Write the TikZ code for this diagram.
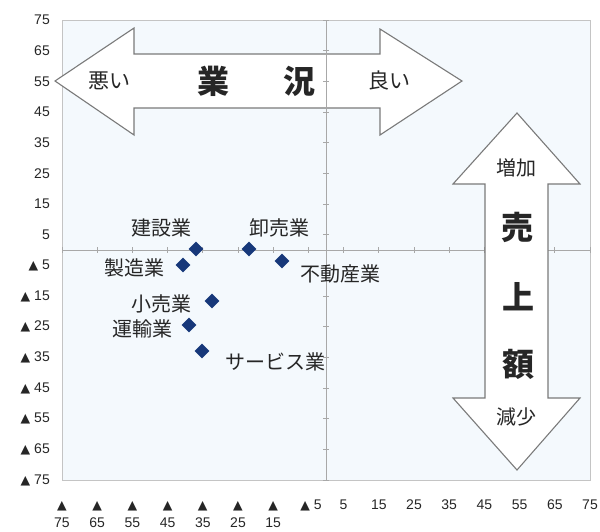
\documentclass[tikz,border=0pt]{standalone}
\usepackage{fontspec}
\setmainfont{Liberation Sans}
\newfontfamily\jp{Noto Sans CJK JP}
\newfontfamily\symf{DejaVu Sans}
\usetikzlibrary{shapes.geometric}
\definecolor{txt}{HTML}{262626}
\definecolor{bgc}{HTML}{F4F9FD}
\definecolor{axc}{HTML}{A8A8A8}
\definecolor{frm}{HTML}{C4C4C4}
\definecolor{arrc}{HTML}{7A7A7A}
\definecolor{ptc}{HTML}{17387A}
\newcommand\tri{{\symf\fontsize{12.5}{12.5}\selectfont ▲}}
\begin{document}
\begin{tikzpicture}[x=1pt,y=-1pt,
 num/.style={font=\fontsize{14}{14}\selectfont, text=txt, inner sep=0},
 lab/.style={font=\jp\fontsize{20}{20}\selectfont, text=txt, inner sep=0},
 mid/.style={font=\jp\fontsize{21}{21}\selectfont, text=txt, inner sep=0},
 big/.style={font=\jp\bfseries\fontsize{32}{32}\selectfont, text=txt, inner sep=0},
 dia/.style={diamond, fill=ptc, inner sep=0, minimum size=15pt},
 arrowshape/.style={draw=arrc, line width=1.1pt, fill=white, line join=miter}]
\useasboundingbox (0,0) rectangle (600,531);
\fill[white] (0,0) rectangle (600,531);
\fill[bgc] (62,20) rectangle (590,480);
\draw[frm, line width=1pt] (62,20) rectangle (590,480);
% horizontal double arrow
\draw[arrowshape] (55,81) -- (134,28) -- (134,54) -- (380,54) -- (380,29) -- (462,81)
  -- (380,135) -- (380,108) -- (134,108) -- (134,135) -- cycle;
% axes
\draw[axc, line width=0.9pt] (326,20) -- (326,480);
\draw[axc, line width=0.9pt] (62,250) -- (590,250);
\foreach \k in {0,...,15} {
  \draw[axc, line width=0.7pt] ({62+35.2*\k},247) -- ({62+35.2*\k},253);
  \draw[axc, line width=0.7pt] (323,{20+30.667*\k}) -- (329,{20+30.667*\k});
}
% vertical double arrow
\draw[arrowshape] (517,113) -- (580,184) -- (548,184) -- (548,398) -- (580,398) -- (517,470)
  -- (453,398) -- (485,398) -- (485,184) -- (453,184) -- cycle;
% arrow texts
\node[mid] (bad) at (109,81) {悪い};
\node[big] (gyo) at (213,81) {業};
\node[big] (kyo) at (299,81) {況};
\node[mid] (good) at (389,81) {良い};
\node[lab] (inc) at (516,168) {増加};
\node[big] (uri) at (517,227) {売};
\node[big] (ue) at (518,297) {上};
\node[big] (gaku) at (518,364) {額};
\node[lab] (dec) at (516,417) {減少};
% y labels
\foreach \v [count=\i from 0] in {75,65,55,45,35,25,15,5}
  \node[num, anchor=east] (ylp\i) at (50,{20+30.667*\i}) {\v};
\foreach \v [count=\i from 8] in {5,15,25,35,45,55,65,75}
  \node[num, anchor=east] (yln\i) at (50,{20+30.667*\i}) {\tri\ \v};
% x labels
\foreach \v [count=\i from 0] in {75,65,55,45,35,25,15} {
  \node[num] (xt\i) at ({62+35.2*\i},506) {\tri};
  \node[num] (xl\i) at ({62+35.2*\i},523) {\v};
}
\node[num] (xm5) at (311,505) {\tri\ 5};
\foreach \v [count=\i from 8] in {5,15,25,35,45,55,65,75}
  \node[num] (xp\i) at ({62+35.2*\i},505) {\v};
% data points
\node[dia] (p1) at (196,249) {};
\node[dia] (p2) at (249,249) {};
\node[dia] (p3) at (282,261) {};
\node[dia] (p4) at (183,265) {};
\node[dia] (p5) at (212,301) {};
\node[dia] (p6) at (189,325) {};
\node[dia] (p7) at (202,351) {};
\node[lab] (l1) at (161,228) {建設業};
\node[lab] (l2) at (279,228) {卸売業};
\node[lab] (l3) at (340,274) {不動産業};
\node[lab] (l4) at (134,268) {製造業};
\node[lab] (l5) at (161,304) {小売業};
\node[lab] (l6) at (142,329) {運輸業};
\node[lab] (l7) at (275,362) {サービス業};
\end{tikzpicture}
\end{document}
